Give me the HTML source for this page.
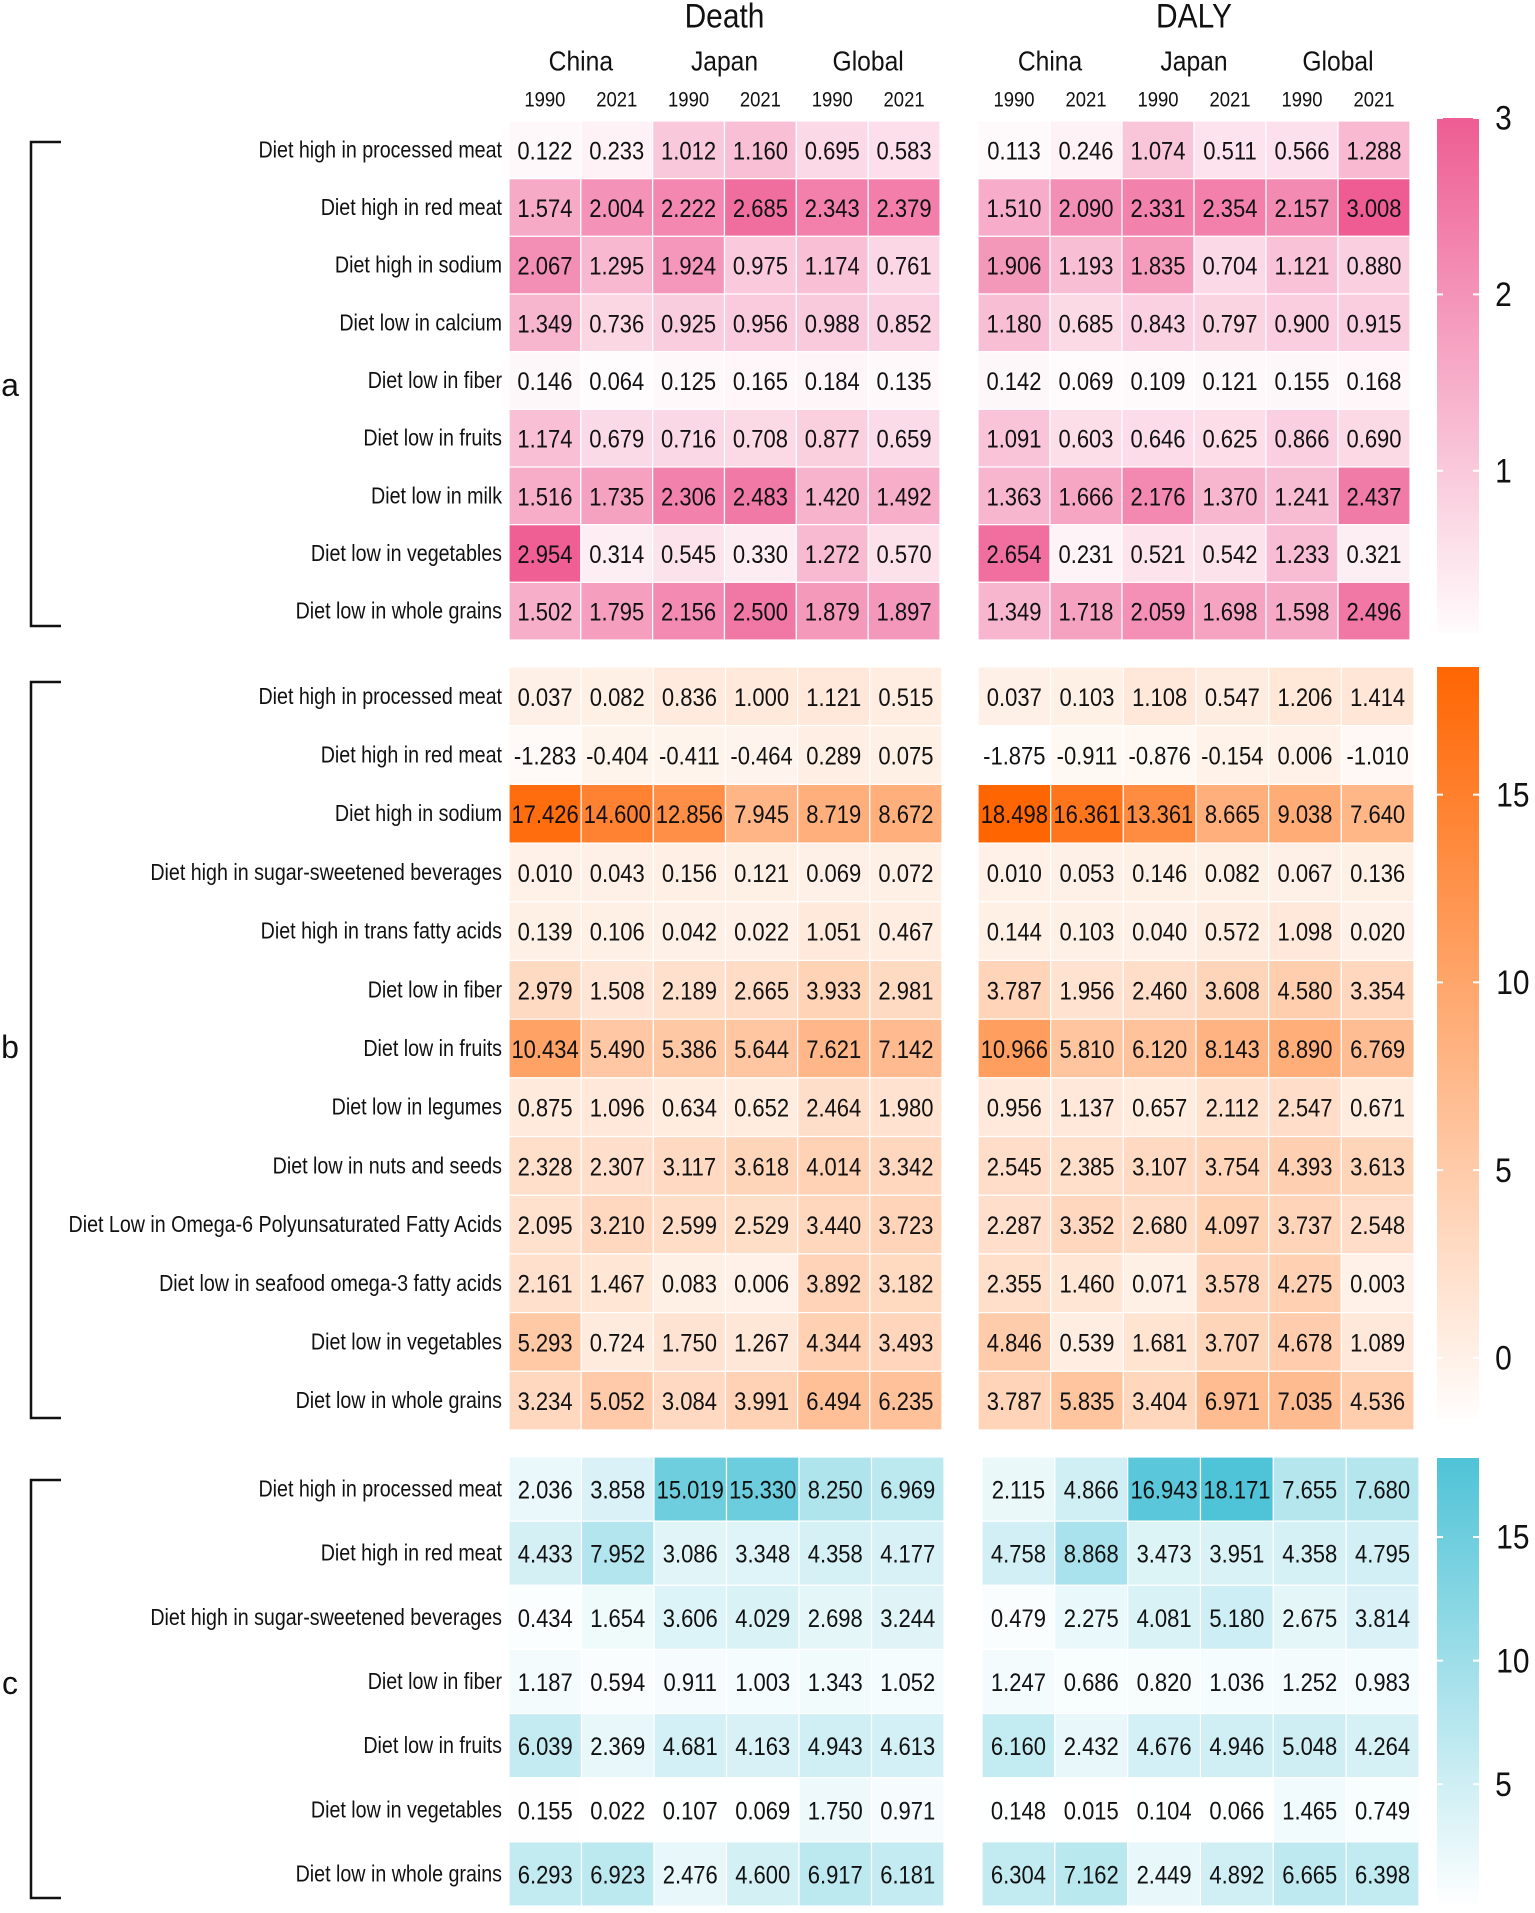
<!DOCTYPE html>
<html><head><meta charset="utf-8"><style>
html,body{margin:0;padding:0;background:#fff;}
svg{display:block;font-family:"Liberation Sans Narrow","Liberation Sans",sans-serif;}
.n{transform-box:fill-box;transform-origin:center;transform:scaleX(0.88);}
.r{transform-box:fill-box;transform-origin:right center;transform:scaleX(0.855);}
</style></head><body>
<svg id="chart" width="1535" height="1913" viewBox="0 0 1535 1913" xmlns="http://www.w3.org/2000/svg"></svg>
<script>
const years=["1990","2021","1990","2021","1990","2021"];
const countries=["China","Japan","Global"];
const measures=["Death","DALY"];
const labelsA=["Diet high in processed meat","Diet high in red meat","Diet high in sodium","Diet low in calcium","Diet low in fiber","Diet low in fruits","Diet low in milk","Diet low in vegetables","Diet low in whole grains"];
const deathA=[[0.122,0.233,1.012,1.160,0.695,0.583],[1.574,2.004,2.222,2.685,2.343,2.379],[2.067,1.295,1.924,0.975,1.174,0.761],[1.349,0.736,0.925,0.956,0.988,0.852],[0.146,0.064,0.125,0.165,0.184,0.135],[1.174,0.679,0.716,0.708,0.877,0.659],[1.516,1.735,2.306,2.483,1.420,1.492],[2.954,0.314,0.545,0.330,1.272,0.570],[1.502,1.795,2.156,2.500,1.879,1.897]];
const dalyA=[[0.113,0.246,1.074,0.511,0.566,1.288],[1.510,2.090,2.331,2.354,2.157,3.008],[1.906,1.193,1.835,0.704,1.121,0.880],[1.180,0.685,0.843,0.797,0.900,0.915],[0.142,0.069,0.109,0.121,0.155,0.168],[1.091,0.603,0.646,0.625,0.866,0.690],[1.363,1.666,2.176,1.370,1.241,2.437],[2.654,0.231,0.521,0.542,1.233,0.321],[1.349,1.718,2.059,1.698,1.598,2.496]];
const labelsB=["Diet high in processed meat","Diet high in red meat","Diet high in sodium","Diet high in sugar-sweetened beverages","Diet high in trans fatty acids","Diet low in fiber","Diet low in fruits","Diet low in legumes","Diet low in nuts and seeds","Diet Low in Omega-6 Polyunsaturated Fatty Acids","Diet low in seafood omega-3 fatty acids","Diet low in vegetables","Diet low in whole grains"];
const deathB=[[0.037,0.082,0.836,1.000,1.121,0.515],[-1.283,-0.404,-0.411,-0.464,0.289,0.075],[17.426,14.600,12.856,7.945,8.719,8.672],[0.010,0.043,0.156,0.121,0.069,0.072],[0.139,0.106,0.042,0.022,1.051,0.467],[2.979,1.508,2.189,2.665,3.933,2.981],[10.434,5.490,5.386,5.644,7.621,7.142],[0.875,1.096,0.634,0.652,2.464,1.980],[2.328,2.307,3.117,3.618,4.014,3.342],[2.095,3.210,2.599,2.529,3.440,3.723],[2.161,1.467,0.083,0.006,3.892,3.182],[5.293,0.724,1.750,1.267,4.344,3.493],[3.234,5.052,3.084,3.991,6.494,6.235]];
const dalyB=[[0.037,0.103,1.108,0.547,1.206,1.414],[-1.875,-0.911,-0.876,-0.154,0.006,-1.010],[18.498,16.361,13.361,8.665,9.038,7.640],[0.010,0.053,0.146,0.082,0.067,0.136],[0.144,0.103,0.040,0.572,1.098,0.020],[3.787,1.956,2.460,3.608,4.580,3.354],[10.966,5.810,6.120,8.143,8.890,6.769],[0.956,1.137,0.657,2.112,2.547,0.671],[2.545,2.385,3.107,3.754,4.393,3.613],[2.287,3.352,2.680,4.097,3.737,2.548],[2.355,1.460,0.071,3.578,4.275,0.003],[4.846,0.539,1.681,3.707,4.678,1.089],[3.787,5.835,3.404,6.971,7.035,4.536]];
const labelsC=["Diet high in processed meat","Diet high in red meat","Diet high in sugar-sweetened beverages","Diet low in fiber","Diet low in fruits","Diet low in vegetables","Diet low in whole grains"];
const deathC=[[2.036,3.858,15.019,15.330,8.250,6.969],[4.433,7.952,3.086,3.348,4.358,4.177],[0.434,1.654,3.606,4.029,2.698,3.244],[1.187,0.594,0.911,1.003,1.343,1.052],[6.039,2.369,4.681,4.163,4.943,4.613],[0.155,0.022,0.107,0.069,1.750,0.971],[6.293,6.923,2.476,4.600,6.917,6.181]];
const dalyC=[[2.115,4.866,16.943,18.171,7.655,7.680],[4.758,8.868,3.473,3.951,4.358,4.795],[0.479,2.275,4.081,5.180,2.675,3.814],[1.247,0.686,0.820,1.036,1.252,0.983],[6.160,2.432,4.676,4.946,5.048,4.264],[0.148,0.015,0.104,0.066,1.465,0.749],[6.304,7.162,2.449,4.892,6.665,6.398]];
const ticksA=[1,2,3];
const ticksB=[0,5,10,15];
const ticksC=[5,10,15];

const NS="http://www.w3.org/2000/svg";
const svg=document.getElementById('chart');
function mk(tag,attrs,parent){const e=document.createElementNS(NS,tag);for(const k in attrs)e.setAttribute(k,attrs[k]);(parent||svg).appendChild(e);return e;}
function txt(s,x,y,size,anchor,cls,parent){const t=mk('text',{x:x,y:y,'font-size':size,'text-anchor':anchor,'dominant-baseline':'central',fill:'#111'},parent);if(cls)t.setAttribute('class',cls);t.textContent=s;return t;}
function mix(c,t){return `rgb(${Math.round(255+(c[0]-255)*t)},${Math.round(255+(c[1]-255)*t)},${Math.round(255+(c[2]-255)*t)})`;}

const panels=[
 {id:'a',labels:labelsA,death:deathA,daly:dalyA,top:121,bottom:640,dx:[509,940],ax:[978,1410],vmin:0,vmax:3.05,col:[238,90,145],ticks:ticksA,cbTop:118,cbBot:633,cbLo:0.08,cbHi:3,bracket:[142,626],letterY:385},
 {id:'b',labels:labelsB,death:deathB,daly:dalyB,top:667,bottom:1430,dx:[509,942],ax:[978,1414],vmin:-1.9,vmax:18.6,col:[255,100,0],ticks:ticksB,cbTop:667,cbBot:1419,cbLo:-1.63,cbHi:18.4,bracket:[682,1418],letterY:1047},
 {id:'c',labels:labelsC,death:deathC,daly:dalyC,top:1457,bottom:1906,dx:[509,944],ax:[982,1419],vmin:0,vmax:18.3,col:[78,195,215],ticks:ticksC,cbTop:1458,cbBot:1906,cbLo:0.07,cbHi:18.2,bracket:[1480,1898],letterY:1683}
];

measures.forEach((m,mi)=>{
 const x0=mi?978:509,x1=mi?1410:940,cw=(x1-x0)/6;
 const h=txt(m,(x0+x1)/2,16,34,'middle','n');
 
 
 countries.forEach((c,ci)=>{
  const t=txt(c,x0+cw*(ci*2+1),61,28,'middle','n');
  
  
 });
 years.forEach((y,yi)=>{
  const t=txt(y,x0+cw*(yi+0.5),100,21,'middle','n');
  
  
 });
});

panels.forEach(p=>{
 const g=mk('g',{});
 
 
 const n=p.labels.length,rh=(p.bottom-p.top)/n;
 const yOf=i=>p.top+i*rh;
 const colorOf=v=>mix(p.col,Math.max(0,Math.min(1,(v-p.vmin)/(p.vmax-p.vmin))));
 [[p.death,p.dx,'death'],[p.daly,p.ax,'daly']].forEach(([data,xr,nm])=>{
  const cw=(xr[1]-xr[0])/6;
  data.forEach((row,i)=>row.forEach((v,j)=>{
   const r=mk('rect',{x:xr[0]+j*cw,y:yOf(i),width:cw,height:rh,fill:colorOf(v),stroke:'#fff','stroke-width':1.2},g);
   
   
   const t=txt(v.toFixed(3),xr[0]+(j+0.5)*cw,yOf(i)+rh/2+1,25,'middle','n',g);
   
   
  }));
 });
 p.labels.forEach((l,i)=>{
  const t=txt(l,502,yOf(i)+rh/2,23,'end','r',g);
  
  
 });
 const gid='grad'+p.id;
 const defs=mk('defs',{},g);
 const lg=mk('linearGradient',{id:gid,x1:0,y1:1,x2:0,y2:0},defs);
 mk('stop',{offset:0,'stop-color':colorOf(p.cbLo)},lg);
 mk('stop',{offset:1,'stop-color':colorOf(p.cbHi)},lg);
 const cb=mk('rect',{x:1437,y:p.cbTop,width:42,height:p.cbBot-p.cbTop,fill:`url(#${gid})`},g);
 
 
 const cbY=v=>p.cbBot-(v-p.cbLo)/(p.cbHi-p.cbLo)*(p.cbBot-p.cbTop);
 p.ticks.forEach(tv=>{
  const y=cbY(tv);
  mk('line',{x1:1437,x2:1443,y1:y,y2:y,stroke:'#fff','stroke-width':2},g);
  mk('line',{x1:1473,x2:1479,y1:y,y2:y,stroke:'#fff','stroke-width':2},g);
  const t=txt(String(tv),1494,y,34,'start','n',g);
  
  
 });
 const br=mk('path',{d:`M61 ${p.bracket[0]} H31 V${p.bracket[1]} H61`,fill:'none',stroke:'#111','stroke-width':2.5},g);
 
 
 const lt=txt(p.id,10,p.letterY,32,'middle','',g);
 
 
});
</script>
</body></html>
